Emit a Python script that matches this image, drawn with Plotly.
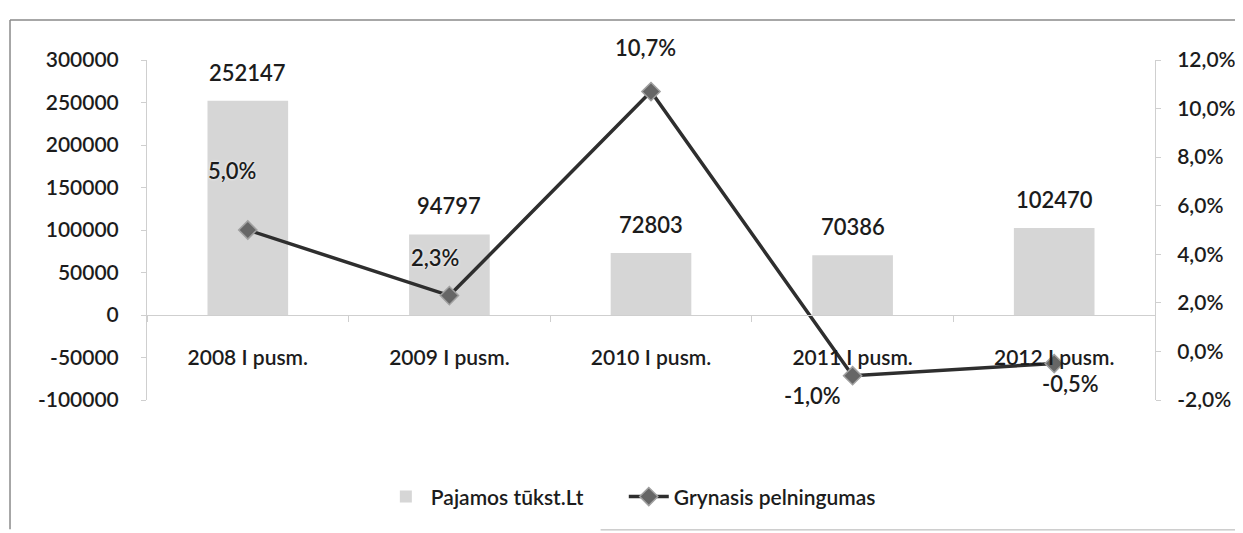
import plotly.graph_objects as go

categories = ["2008 I pusm.", "2009 I pusm.", "2010 I pusm.", "2011 I pusm.", "2012 I pusm."]
revenue = [252147, 94797, 72803, 70386, 102470]          # Pajamos tūkst.Lt
net_margin = [5.0, 2.3, 10.7, -1.0, -0.5]                # Grynasis pelningumas, %

left_tickvals = [-100000, -50000, 0, 50000, 100000, 150000, 200000, 250000, 300000]
left_ticktext = ["-100000", "-50000", "0", "50000", "100000", "150000", "200000", "250000", "300000"]
right_tickvals = [-2, 0, 2, 4, 6, 8, 10, 12]
right_ticktext = ["-2,0%", "0,0%", "2,0%", "4,0%", "6,0%", "8,0%", "10,0%", "12,0%"]

# label offsets (style only, pixels relative to the marker)
line_label_shift = [(-16, 60), (-14, 38), (-6, 44), (-40, -20), (16, -20)]

FONT = "Lato"
W = 600
TXT = "#1c1c1c"
AXC = "#cfcfcf"

fig = go.Figure()
fig.add_trace(go.Bar(
    x=categories, y=revenue, name="Pajamos tūkst.Lt",
    marker=dict(color="#d6d6d6", line=dict(width=0)),
    width=0.4, yaxis="y", legend="legend",
))
fig.add_trace(go.Scatter(
    x=categories, y=net_margin, name="Grynasis pelningumas", yaxis="y2",
    mode="lines+markers",
    line=dict(color="#2e2e2e", width=3.5),
    marker=dict(symbol="diamond", size=14, color="#666666", line=dict(color="#a0a0a0", width=1.5)),
    legend="legend2",
))

annotations = []
for c, v in zip(categories, revenue):
    annotations.append(dict(x=c, y=v, xref="x", yref="y", text=str(v), showarrow=False,
                            yanchor="bottom", yshift=13,
                            font=dict(family=FONT, size=22, weight=W, color=TXT)))
for (c, v), (dx, dy) in zip(zip(categories, net_margin), line_label_shift):
    annotations.append(dict(x=c, y=v, xref="x", yref="y2",
                            text=f"{v:.1f}".replace(".", ",") + "%", showarrow=False,
                            xshift=dx, yshift=dy,
                            font=dict(family=FONT, size=22, weight=W, color=TXT,
                                      shadow="0px 0px 3px white")))

legend_font = dict(family=FONT, size=21, weight=W, color=TXT)

fig.update_layout(
    width=1235, height=525,
    margin=dict(l=139, r=88, t=52, b=133, autoexpand=False),
    paper_bgcolor="white", plot_bgcolor="white",
    font=dict(family=FONT, size=21, weight=W, color=TXT),
    showlegend=True,
    legend=dict(orientation="h", x=0.232, xanchor="left", y=-0.285, yanchor="middle",
                font=legend_font, itemwidth=40, bgcolor="rgba(0,0,0,0)"),
    legend2=dict(orientation="h", x=0.473, xanchor="left", y=-0.285, yanchor="middle",
                 font=legend_font, itemwidth=40, bgcolor="rgba(0,0,0,0)"),
    xaxis=dict(anchor="free", position=0.25, showline=True, linecolor=AXC, linewidth=1,
               ticks="outside", tickson="boundaries", ticklen=6, tickcolor=AXC,
               ticklabelstandoff=24, showgrid=False, zeroline=False, automargin=False,
               tickfont=dict(family=FONT, size=21, weight=W, color=TXT)),
    yaxis=dict(range=[-100000, 300000], tickvals=left_tickvals, ticktext=left_ticktext,
               showline=True, linecolor=AXC, ticks="outside", ticklen=5, tickcolor=AXC,
               showgrid=False, zeroline=False, ticklabelstandoff=18, automargin=False,
               tickfont=dict(family=FONT, size=21, weight=W, color=TXT)),
    yaxis2=dict(range=[-2, 12], tickvals=right_tickvals, ticktext=right_ticktext,
                overlaying="y", side="right", showline=True, linecolor=AXC,
                ticks="outside", ticklen=5, tickcolor=AXC, showgrid=False, zeroline=False,
                ticklabelstandoff=12, automargin=False,
                tickfont=dict(family=FONT, size=21, weight=W, color=TXT)),
    annotations=annotations,
    shapes=[
        dict(type="line", xref="paper", yref="paper", x0=-0.1359, x1=1.09, y0=1.1176, y1=1.1176,
             line=dict(color="#8a8a8a", width=1.5)),
        dict(type="line", xref="paper", yref="paper", x0=-0.1359, x1=-0.1359, y0=1.1176, y1=-0.38,
             line=dict(color="#8a8a8a", width=1.5)),
        dict(type="line", xref="paper", yref="paper", x0=0.45, x1=1.09, y0=-0.382, y1=-0.382,
             line=dict(color="#b0b0b0", width=1)),
    ],
)

fig.write_html("out.html")
